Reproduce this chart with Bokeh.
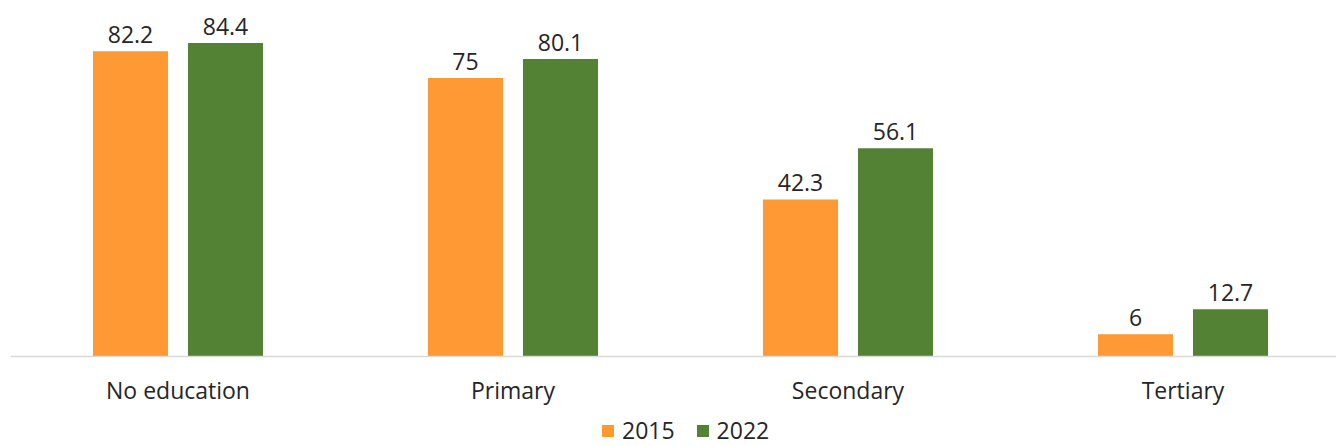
from bokeh.plotting import figure
from bokeh.models import ColumnDataSource, Range1d, LabelSet, Legend, LegendItem, Span
from bokeh.core.properties import value
from bokeh.embed import file_html
from bokeh.resources import INLINE

categories = ["No education", "Primary", "Secondary", "Tertiary"]
v2015 = [82.2, 75, 42.3, 6]
v2022 = [84.4, 80.1, 56.1, 12.7]
lab2015 = ["82.2", "75", "42.3", "6"]
lab2022 = ["84.4", "80.1", "56.1", "12.7"]

FONT = "Open Sans"
FS = "23px"
TXT = "#262626"
ORANGE = "#FF9933"
GREEN = "#548235"

pos = list(range(len(categories)))
off = 0.1418
bw = 0.224

s15 = ColumnDataSource(dict(x=[p - off for p in pos], y=v2015, t=lab2015))
s22 = ColumnDataSource(dict(x=[p + off for p in pos], y=v2022, t=lab2022))
scat = ColumnDataSource(dict(x=pos, y=[0] * len(pos), t=categories))

W, H = 1336, 446
left = 10
frame_w = W - left
cat_px = 335.0
base_px = 356          # baseline position from top
ppu = 3.713            # pixels per data unit
p = figure(width=W, height=H, output_backend="svg", toolbar_location=None,
           x_range=Range1d(-0.5, -0.5 + frame_w / cat_px),
           y_range=Range1d(-(H - base_px) / ppu, base_px / ppu),
           min_border_left=left, min_border_right=0, min_border_top=0,
           min_border_bottom=0)
p.outline_line_color = None
p.xgrid.visible = False
p.ygrid.visible = False
p.xaxis.visible = False
p.yaxis.visible = False

p.add_layout(Span(location=0, dimension="width", line_color="#D9D9D9", line_width=1.5))

r1 = p.vbar(x="x", top="y", width=bw, source=s15, fill_color=ORANGE, line_color=None)
r2 = p.vbar(x="x", top="y", width=bw, source=s22, fill_color=GREEN, line_color=None)

for src in (s15, s22):
    p.add_layout(LabelSet(x="x", y="y", text="t", source=src, text_align="center",
                          text_baseline="bottom", y_offset=8, text_font=value(FONT),
                          text_font_size=value(FS), text_color=TXT))

p.add_layout(LabelSet(x="x", y="y", text="t", source=scat, text_align="center",
                      text_baseline="middle", y_offset=-33, text_font=value(FONT),
                      text_font_size=value(FS), text_color=TXT))

legend = Legend(items=[LegendItem(label="2015", renderers=[r1]),
                       LegendItem(label="2022", renderers=[r2])],
                orientation="horizontal", location=(590, 0),
                glyph_width=15, glyph_height=15, label_standoff=7, spacing=20,
                padding=0, margin=0, border_line_color=None, background_fill_alpha=0,
                label_text_font=FONT, label_text_font_size=FS, label_text_color=TXT)
p.add_layout(legend, "center")

open("out.html", "w").write(file_html(p, INLINE))
